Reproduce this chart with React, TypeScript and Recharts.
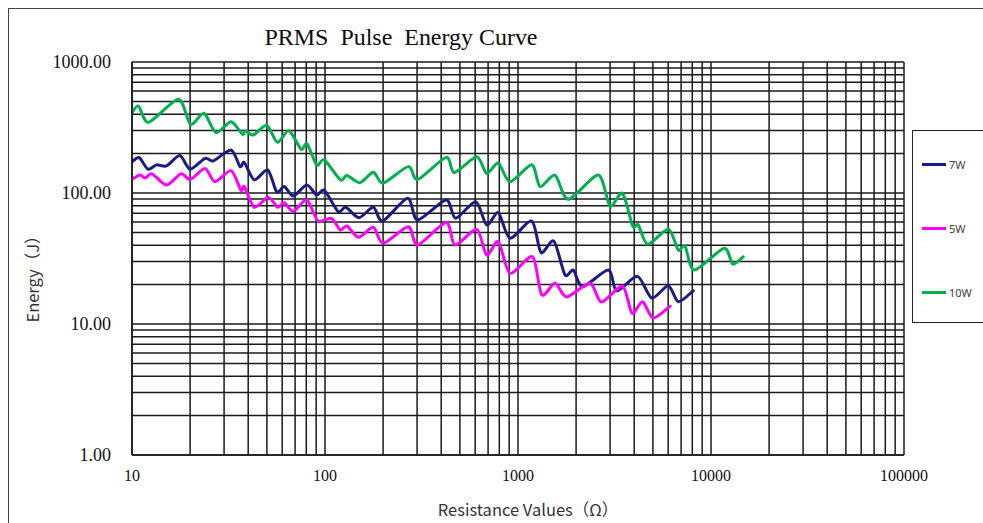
import { LineChart, Line, XAxis, YAxis, CartesianGrid, Legend } from "recharts";

// resistance (ohm) / energy (J) pairs
const resistance7W = [10, 10.9, 12.1, 13.4, 15.1, 17.7, 20, 23.9, 26.4, 32.6, 36.3, 38.2, 43, 50.5, 56.2, 61.5, 68.5, 80.4, 90.6, 99.2, 117, 128, 150, 178, 199, 268, 302, 424, 475, 604, 688, 791, 909, 1178, 1316, 1533, 1752, 1934, 2164, 2938, 3246, 4161, 4929, 6008, 6770, 8097];
const energy7W = [173, 186, 152, 164, 161, 193, 152, 184, 176, 213, 159, 171, 126, 150, 102, 112, 94.9, 115, 96.5, 105, 72, 77.8, 64.8, 77.8, 61.1, 91.1, 62.2, 88.5, 64.1, 85.8, 57, 70.7, 45.1, 61.1, 35.1, 43, 23.7, 25.8, 19.3, 25.8, 17.9, 23.1, 15.8, 19.6, 14.8, 17.95];

const resistance5W = [10, 11, 11.7, 12.7, 15.1, 17.9, 20.1, 23.9, 26.9, 32.6, 36.7, 38.2, 43, 50.8, 56.9, 61.5, 68.5, 80.4, 92, 108, 120, 130, 149, 178, 200, 270, 302, 424, 472, 611, 688, 791, 909, 1189, 1327, 1555, 1788, 2361, 2708, 3479, 3896, 4417, 5023, 6131];
const energy5W = [127, 137, 130, 140, 115, 140, 127, 154, 122, 148, 105, 112, 77.8, 92.7, 77.8, 84.3, 72.2, 88.5, 61.1, 64.1, 52.2, 56, 45.9, 54.7, 41.3, 55.3, 40.1, 59.5, 40.1, 52.8, 33.6, 42.5, 24.4, 32.6, 16.7, 20.5, 16.1, 20.5, 14.7, 19.5, 12.1, 14.8, 11.1, 13.65];

const resistance10W = [10, 10.8, 12.2, 17.4, 20.1, 23.6, 27.2, 32.6, 37.3, 38.8, 42.5, 49.9, 56.6, 65.1, 75.1, 80.7, 90.6, 99.2, 120, 130, 152, 178, 200, 270, 302, 424, 468, 611, 688, 791, 909, 1178, 1300, 1555, 1822, 2607, 2998, 3479, 3929, 4201, 4699, 6008, 6770, 7334, 8195, 11680, 12950, 14700];
const energy10W = [410, 461, 347, 519, 334, 406, 289, 350, 281, 299, 277, 329, 244, 299, 216, 237, 164, 179, 126, 136, 120, 144, 119, 159, 127, 187, 143, 189, 141, 169, 122, 164, 112, 137, 89.5, 137, 79.6, 99.5, 56, 57, 40.6, 52.8, 36.7, 39.4, 25.8, 37.8, 28.7, 32.6];

// log grid lines (only decades get a label)
const xGrid = [10, 20, 30, 40, 50, 60, 70, 80, 90, 100, 200, 300, 400, 500, 600, 700, 800, 900, 1000, 2000, 3000, 4000, 5000, 6000, 7000, 8000, 9000, 10000, 20000, 30000, 40000, 50000, 60000, 70000, 80000, 90000, 100000];
const yGrid = [1, 2, 3, 4, 5, 6, 7, 8, 9, 10, 20, 30, 40, 50, 60, 70, 80, 90, 100, 200, 300, 400, 500, 600, 700, 800, 900, 1000];

const series = [
  { name: "7W", color: "#1B1B86", r: resistance7W, e: energy7W },
  { name: "5W", color: "#FF00FF", r: resistance5W, e: energy5W },
  { name: "10W", color: "#00B050", r: resistance10W, e: energy10W },
];

const isDecade = (v: number) => Math.abs(Math.log10(v) - Math.round(Math.log10(v))) < 1e-9;

// Excel-style smoothed line: cardinal spline through the points
const smooth = (context: any) => {
  let pts: number[][] = [];
  const s = 0.13;
  return {
    areaStart() {},
    areaEnd() {},
    lineStart() {
      pts = [];
    },
    point(x: number, y: number) {
      pts.push([+x, +y]);
    },
    lineEnd() {
      if (!pts.length) return;
      context.moveTo(pts[0][0], pts[0][1]);
      for (let i = 0; i < pts.length - 1; i++) {
        const p0 = pts[i - 1] || pts[i];
        const p1 = pts[i];
        const p2 = pts[i + 1];
        const p3 = pts[i + 2] || p2;
        context.bezierCurveTo(
          p1[0] + (p2[0] - p0[0]) * s,
          p1[1] + (p2[1] - p0[1]) * s,
          p2[0] - (p3[0] - p1[0]) * s,
          p2[1] - (p3[1] - p1[1]) * s,
          p2[0],
          p2[1]
        );
      }
    },
  };
};

const serif = "'Liberation Serif', 'Times New Roman', serif";
const sans = "'Noto Sans CJK SC', 'Noto Sans', sans-serif";

function LegendBox() {
  return (
    <div
      style={{
        width: 90,
        height: 193,
        border: "1.5px solid #262626",
        background: "#fff",
        boxSizing: "border-box",
        paddingTop: 1,
        fontFamily: "'Noto Sans', sans-serif",
        fontSize: 11,
        color: "#404040",
      }}
    >
      {series.map((s) => (
        <div key={s.name} style={{ height: 64, display: "flex", alignItems: "center" }}>
          <div style={{ marginLeft: 9, width: 24, height: 3, background: s.color }} />
          <span style={{ marginLeft: 3 }}>{s.name}</span>
        </div>
      ))}
    </div>
  );
}

export default function App() {
  return (
    <div
      style={{
        position: "absolute",
        left: 8,
        top: 8,
        width: 975,
        height: 515,
        overflow: "hidden",
        background: "#fff",
        borderLeft: "1px solid #444",
        borderTop: "1px solid #444",
        boxSizing: "border-box",
      }}
    >
      <LineChart width={974} height={514} margin={{ top: 53, right: 79, bottom: 0, left: 0 }}>
        <CartesianGrid stroke="#1a1a1a" strokeWidth={1.5} />
        <XAxis
          type="number"
          dataKey="x"
          scale="log"
          domain={[10, 100000]}
          allowDataOverflow
          ticks={xGrid}
          interval={0}
          tickFormatter={(v: number) => (isDecade(v) ? String(v) : "")}
          tick={{ fill: "#111", fontSize: 16, fontFamily: serif }}
          tickLine={false}
          tickSize={0}
          tickMargin={15}
          height={68}
          axisLine={{ stroke: "#1a1a1a", strokeWidth: 1.5 }}
        />
        <YAxis
          type="number"
          dataKey="y"
          scale="log"
          domain={[1, 1000]}
          allowDataOverflow
          ticks={yGrid}
          interval={0}
          tickFormatter={(v: number) => (isDecade(v) ? v.toFixed(2) : "")}
          tick={{ fill: "#111", fontSize: 18, fontFamily: serif }}
          tickLine={false}
          tickSize={0}
          tickMargin={21}
          width={123}
          axisLine={{ stroke: "#1a1a1a", strokeWidth: 1.5 }}
        />
        <Legend
          layout="horizontal"
          align="center"
          verticalAlign="middle"
          content={() => <LegendBox />}
          wrapperStyle={{ left: 903, top: 121, width: 90, height: 193 }}
        />
        {series.map((s) => (
          <Line
            key={s.name}
            name={s.name}
            data={s.r.map((r, i) => ({ x: r, y: s.e[i] }))}
            dataKey="y"
            type={smooth as any}
            stroke={s.color}
            strokeWidth={3}
            strokeLinejoin="round"
            strokeLinecap="round"
            dot={false}
            isAnimationActive={false}
          />
        ))}
        <text
          x={392}
          y={36}
          textAnchor="middle"
          fontFamily={serif}
          fontSize={24}
          fill="#0d0d0d"
          textLength={273}
          lengthAdjust="spacingAndGlyphs"
          style={{ whiteSpace: "pre" }}
        >
          PRMS  Pulse  Energy Curve
        </text>
        <text
          x={23}
          y={266}
          transform="rotate(-90, 23, 266)"
          textAnchor="middle"
          dominantBaseline="central"
          fontFamily={sans}
          fontSize={16.5}
          fill="#333"
        >
          Energy（J）
        </text>
        <text
          x={519}
          y={500}
          textAnchor="middle"
          dominantBaseline="central"
          fontFamily={sans}
          fontSize={16.5}
          fill="#333"
        >
          Resistance Values（Ω）
        </text>
      </LineChart>
    </div>
  );
}
